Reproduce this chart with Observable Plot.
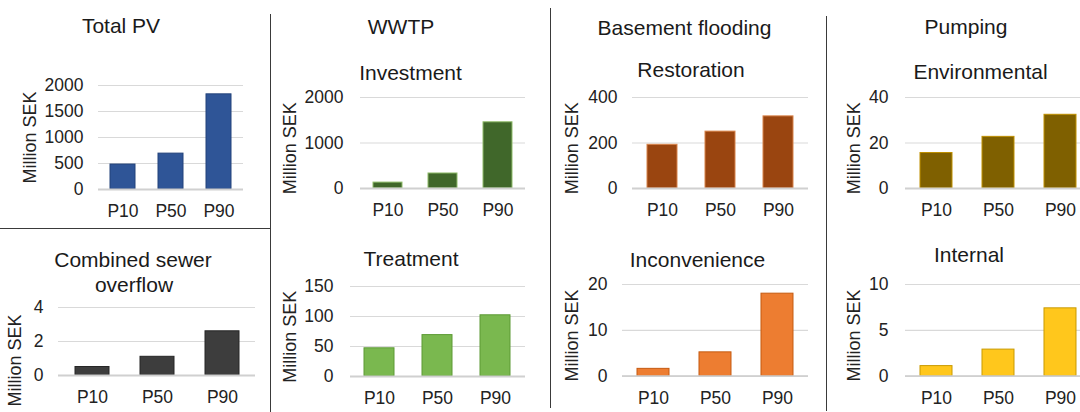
<!DOCTYPE html>
<html>
<head>
<meta charset="utf-8">
<script src="https://cdn.jsdelivr.net/npm/d3@7"></script>
<script src="https://cdn.jsdelivr.net/npm/@observablehq/plot@0.6"></script>
<style>
  html, body { margin: 0; padding: 0; background: #fff; overflow: hidden; }
  #root { position: relative; width: 1080px; height: 412px; overflow: hidden; background: #fff;
          font-family: "Liberation Sans", Arial, sans-serif; color: #222; }
  .box { position: absolute; }
  .box svg { max-width: none !important; }
  .title { position: absolute; font-size: 21px; line-height: 21px; white-space: nowrap; transform: translateX(-50%); color: #1a1a1a; }
  .vline { position: absolute; width: 0; border-left: 1.5px solid #3a3a3a; }
  .hline { position: absolute; height: 0; border-top: 1.5px solid #3a3a3a; }
</style>
</head>
<body>
<div id="root"></div>
<script>
// ---- data ----
const categories = ["P10", "P50", "P90"];
const totalPV = [480, 690, 1830];
const combinedSewerOverflow = [0.5, 1.1, 2.6];
const wwtpInvestment = [130, 330, 1455];
const wwtpTreatment = [47, 69, 102];
const basementRestoration = [192, 250, 317];
const basementInconvenience = [1.6, 5.2, 18];
const pumpingEnvironmental = [15.6, 22.7, 32.4];
const pumpingInternal = [1.1, 2.9, 7.4];

const ticksTotalPV = [0, 500, 1000, 1500, 2000];
const ticksCSO = [0, 2, 4];
const ticksInvestment = [0, 1000, 2000];
const ticksTreatment = [0, 50, 100, 150];
const ticksRestoration = [0, 200, 400];
const ticksInconvenience = [0, 10, 20];
const ticksEnvironmental = [0, 20, 40];
const ticksInternal = [0, 5, 10];

const yLabel = "Million SEK";

// ---- layout ----
const root = document.getElementById("root");
const FONT = "'Liberation Sans', Arial, sans-serif";

function panel(cfg) {
  const mT = 14, mR = 4;
  const mB = cfg.mB ?? 36;
  const mL = cfg.fx0 - cfg.boxLeft;
  const width = cfg.fx1 - cfg.boxLeft + mR;
  const height = mT + (cfg.fzero - cfg.ftop) + mB;
  const data = categories.map((c, i) => ({cat: c, value: cfg.values[i]}));
  const frameMid = (cfg.ftop + cfg.fzero) / 2;
  const chart = Plot.plot({
    width, height,
    marginLeft: mL, marginRight: mR, marginTop: mT, marginBottom: mB,
    x: {domain: categories, paddingInner: 0.48, paddingOuter: 0.24},
    y: {domain: [0, cfg.ticks[cfg.ticks.length - 1]]},
    style: {fontFamily: FONT, fontSize: "17.5px", color: "#222", background: "transparent",
            overflow: "visible", maxWidth: "none"},
    marks: [
      Plot.gridY(cfg.ticks, {stroke: "#d9d9d9", strokeOpacity: 1, strokeWidth: 1.2}),
      Plot.barY(data, {x: "cat", y: "value", fill: cfg.fill, stroke: cfg.stroke, strokeWidth: 1}),
      Plot.ruleY([0], {stroke: "#d0d0d0", strokeWidth: 1.8}),
      Plot.axisY(cfg.ticks, {tickSize: 0, tickPadding: cfg.tickPad, fontSize: 17.5, label: null,
                             fill: "#222", tickFormat: d => String(d)}),
      Plot.axisX({tickSize: 0, tickPadding: 15, fontSize: 17.5, label: null, fill: "#222"}),
      Plot.text([yLabel], {
        text: d => d, frameAnchor: "left", textAnchor: "middle", rotate: -90,
        dx: cfg.labelCx - cfg.fx0, dy: cfg.labelCy - frameMid, fontSize: 18, fill: "#222"
      })
    ]
  });
  const div = document.createElement("div");
  div.className = "box";
  div.style.left = cfg.boxLeft + "px";
  div.style.top = (cfg.ftop - mT) + "px";
  div.style.width = width + "px";
  div.style.height = height + "px";
  div.appendChild(chart);
  root.appendChild(div);
}

function title(text, cx, baseline) {
  const d = document.createElement("div");
  d.className = "title";
  d.textContent = text;
  d.style.left = cx + "px";
  d.style.top = (baseline - 0.8465 * 21) + "px";
  root.appendChild(d);
}

function vline(x, y0, y1) {
  const d = document.createElement("div");
  d.className = "vline";
  d.style.left = x + "px"; d.style.top = y0 + "px"; d.style.height = (y1 - y0) + "px";
  root.appendChild(d);
}
function hline(y, x0, x1) {
  const d = document.createElement("div");
  d.className = "hline";
  d.style.top = y + "px"; d.style.left = x0 + "px"; d.style.width = (x1 - x0) + "px";
  root.appendChild(d);
}

// Total PV
panel({values: totalPV, ticks: ticksTotalPV, fill: "#2F5597", stroke: "#22427a",
  boxLeft: 0, fx0: 98, fx1: 243, ftop: 85, fzero: 189, tickPad: 15, labelCx: 29.5, labelCy: 137});
// Combined sewer overflow
panel({values: combinedSewerOverflow, ticks: ticksCSO, fill: "#3d3d3d", stroke: "#262626",
  boxLeft: 0, fx0: 58, fx1: 255, ftop: 307, fzero: 375, tickPad: 15, labelCx: 15, labelCy: 360, mB: 37});
// WWTP Investment
panel({values: wwtpInvestment, ticks: ticksInvestment, fill: "#40672A", stroke: "#8fbc6a",
  boxLeft: 272, fx0: 360, fx1: 525, ftop: 96.7, fzero: 187.7, tickPad: 17, labelCx: 289.5, labelCy: 147.5});
// WWTP Treatment
panel({values: wwtpTreatment, ticks: ticksTreatment, fill: "#7AB84F", stroke: "#5c9a34",
  boxLeft: 272, fx0: 350, fx1: 525, ftop: 285.7, fzero: 375.7, tickPad: 17, labelCx: 289.5, labelCy: 336});
// Basement Restoration
panel({values: basementRestoration, ticks: ticksRestoration, fill: "#9A4510", stroke: "#d8834a",
  boxLeft: 552, fx0: 632, fx1: 808, ftop: 96.7, fzero: 187.7, tickPad: 15, labelCx: 571.5, labelCy: 147.5});
// Basement Inconvenience
panel({values: basementInconvenience, ticks: ticksInconvenience, fill: "#ED7D31", stroke: "#C55A11",
  boxLeft: 552, fx0: 622, fx1: 808, ftop: 284, fzero: 375.7, tickPad: 15, labelCx: 571.5, labelCy: 335});
// Pumping Environmental
panel({values: pumpingEnvironmental, ticks: ticksEnvironmental, fill: "#7F6000", stroke: "#BF9000",
  boxLeft: 828, fx0: 905, fx1: 1091, ftop: 96.7, fzero: 187.7, tickPad: 17, labelCx: 854, labelCy: 147.5});
// Pumping Internal
panel({values: pumpingInternal, ticks: ticksInternal, fill: "#FFC71C", stroke: "#C99A00",
  boxLeft: 828, fx0: 905, fx1: 1091, ftop: 284, fzero: 375.7, tickPad: 17, labelCx: 854, labelCy: 335});

// titles
title("Total PV", 121, 33);
title("Combined sewer", 133, 267);
title("overflow", 134, 292);
title("WWTP", 401, 34);
title("Investment", 410.5, 80);
title("Treatment", 411, 266);
title("Basement flooding", 684.5, 35);
title("Restoration", 691, 77);
title("Inconvenience", 697.5, 267);
title("Pumping", 966, 34);
title("Environmental", 980.5, 79);
title("Internal", 969, 262);

// dividers
vline(270, 14, 412);
hline(228, 0, 271);
vline(550, 8, 408);
vline(826, 16, 411);
</script>
</body>
</html>
